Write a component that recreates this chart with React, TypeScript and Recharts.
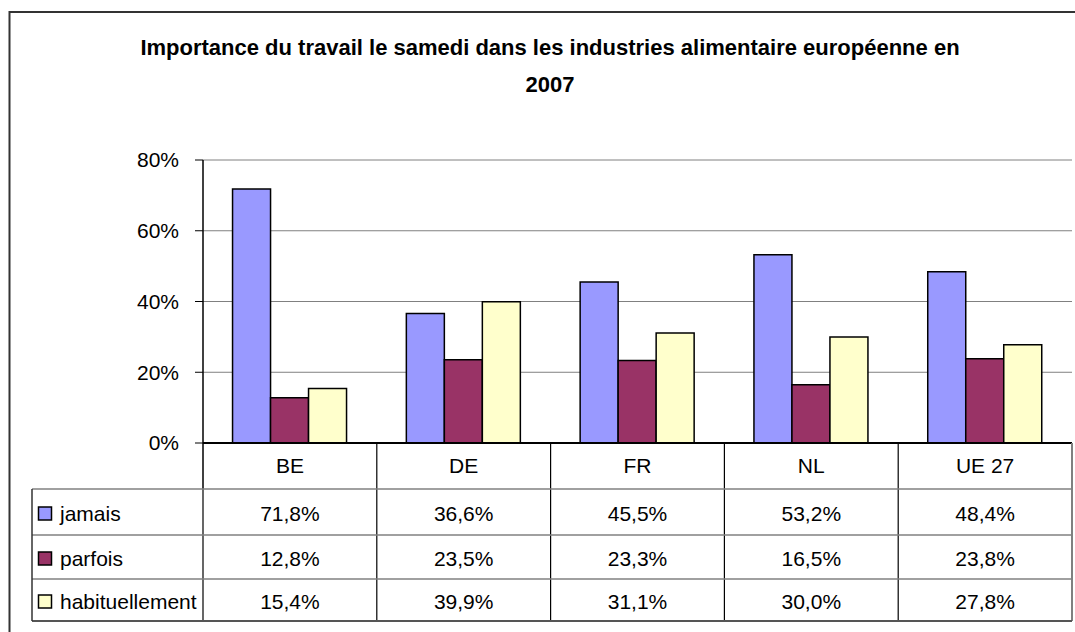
import { BarChart, Bar, XAxis, YAxis, CartesianGrid } from "recharts";

const categories = ["BE", "DE", "FR", "NL", "UE 27"];
const jamais = [71.8, 36.6, 45.5, 53.2, 48.4];
const parfois = [12.8, 23.5, 23.3, 16.5, 23.8];
const habituellement = [15.4, 39.9, 31.1, 30.0, 27.8];
const yTicks = [0, 20, 40, 60, 80];

const titleLines = [
  "Importance du travail le samedi dans les industries alimentaire européenne en",
  "2007",
];

const series = [
  { key: "jamais", values: jamais, color: "#9999FF" },
  { key: "parfois", values: parfois, color: "#993366" },
  { key: "habituellement", values: habituellement, color: "#FFFFCC" },
];

const data = categories.map((name, i) => ({
  name,
  jamais: jamais[i],
  parfois: parfois[i],
  habituellement: habituellement[i],
}));

const W = 1075;
const H = 632;
const FONT = "'Liberation Sans', Arial, sans-serif";
const FS = 21;

// plot area
const plotLeft = 203;
const plotRight = 1072;
const plotTop = 160;
const plotBottom = 443;
const yAxisW = 60;
const xAxisH = 46;

// table below the plot
const tableLeft = 32;
const rowTops = [489, 535, 579, 621];

const fmt = (v: number) => v.toFixed(1).replace(".", ",") + "%";

function CategoryTick(props: any) {
  const { x, payload } = props;
  return (
    <text
      x={x}
      y={plotBottom + 30}
      textAnchor="middle"
      fontSize={FS}
      fontFamily={FONT}
      fill="#000"
    >
      {payload.value}
    </text>
  );
}

export default function App() {
  const colW = (plotRight - plotLeft) / categories.length;
  const colEdges = categories.map((_, i) => plotLeft + colW * (i + 1));

  return (
    <div style={{ position: "relative", width: W, height: H, background: "#fff", overflow: "hidden" }}>
      <style>{`body{margin:0}`}</style>
      <div style={{ position: "absolute", left: 0, top: 0 }}>
        <BarChart
          width={W}
          height={H}
          data={data}
          barCategoryGap="17%"
          barGap={0}
          margin={{
            top: plotTop,
            left: plotLeft - yAxisW,
            right: W - plotRight,
            bottom: H - plotBottom - xAxisH,
          }}
        >
          <CartesianGrid vertical={false} stroke="#808080" strokeWidth={1} />
          <XAxis
            dataKey="name"
            height={xAxisH}
            axisLine={{ stroke: "#000", strokeWidth: 2 }}
            tickLine={false}
            tick={<CategoryTick />}
            interval={0}
          />
          <YAxis
            width={yAxisW}
            domain={[0, 80]}
            ticks={yTicks}
            tickFormatter={(v: number) => v + "%"}
            axisLine={{ stroke: "#000", strokeWidth: 1.5 }}
            tickLine={{ stroke: "#000" }}
            tickSize={8}
            tickMargin={16}
            tick={{ fontSize: FS, fontFamily: FONT, fill: "#000" }}
          />
          <YAxis
            yAxisId="right"
            orientation="right"
            width={0}
            domain={[0, 80]}
            tick={false}
            tickLine={false}
            axisLine={{ stroke: "#808080", strokeWidth: 2 }}
          />
          {series.map((s) => (
            <Bar
              key={s.key}
              dataKey={s.key}
              fill={s.color}
              stroke="#000"
              strokeWidth={1.5}
              isAnimationActive={false}
            />
          ))}
        </BarChart>
      </div>

      <svg
        width={W}
        height={H}
        style={{ position: "absolute", left: 0, top: 0, pointerEvents: "none" }}
        fontFamily={FONT}
      >
        {/* outer frame */}
        <rect x={9.5} y={12} width={W + 20} height={H + 20} fill="none" stroke="#333" strokeWidth={2} />

        {/* title */}
        {titleLines.map((t, i) => (
          <text
            key={i}
            x={550}
            y={55 + i * 37}
            textAnchor="middle"
            fontSize={22}
            fontWeight="bold"
            fill="#000"
          >
            {t}
          </text>
        ))}

        {/* header row verticals */}
        <line x1={plotLeft} y1={plotBottom} x2={plotLeft} y2={rowTops[0]} stroke="#000" strokeWidth={1.5} />
        {colEdges.slice(0, -1).map((x, i) => (
          <line key={i} x1={x} y1={plotBottom} x2={x} y2={rowTops[rowTops.length - 1]} stroke="#000" strokeWidth={1.2} />
        ))}
        <line x1={plotLeft} y1={rowTops[0]} x2={plotLeft} y2={rowTops[3]} stroke="#000" strokeWidth={1.2} />
        <line x1={plotRight} y1={plotBottom} x2={plotRight} y2={rowTops[3]} stroke="#808080" strokeWidth={2} />

        {/* row lines */}
        {rowTops.map((y, i) => (
          <line
            key={i}
            x1={tableLeft}
            y1={y}
            x2={plotRight}
            y2={y}
            stroke={i === rowTops.length - 1 ? "#555" : "#808080"}
            strokeWidth={i === rowTops.length - 1 ? 2 : 1.5}
          />
        ))}
        <line x1={tableLeft} y1={rowTops[0]} x2={tableLeft} y2={rowTops[3]} stroke="#333" strokeWidth={1.5} />

        {/* legend keys + values */}
        {series.map((s, r) => {
          const cy = (rowTops[r] + rowTops[r + 1]) / 2 + 1;
          return (
            <g key={s.key}>
              <rect x={38.5} y={cy - 6} width={13} height={13} fill={s.color} stroke="#000" strokeWidth={1.5} />
              <text x={60} y={cy + 8} fontSize={FS} fill="#000">
                {s.key}
              </text>
              {s.values.map((v, c) => (
                <text
                  key={c}
                  x={plotLeft + colW * (c + 0.5)}
                  y={cy + 8}
                  textAnchor="middle"
                  fontSize={FS}
                  fill="#000"
                >
                  {fmt(v)}
                </text>
              ))}
            </g>
          );
        })}
      </svg>
    </div>
  );
}
